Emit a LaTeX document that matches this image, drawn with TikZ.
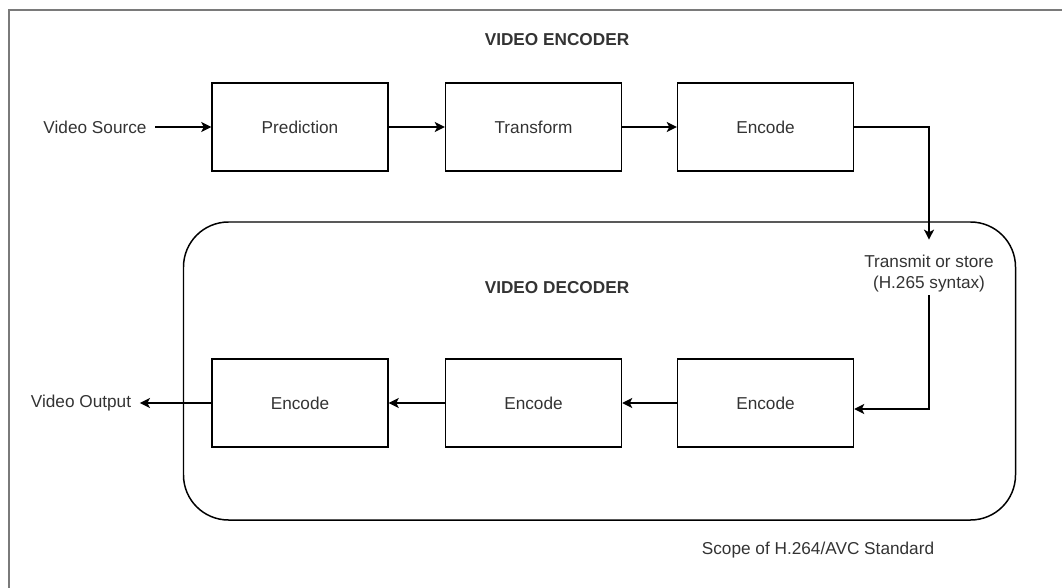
\documentclass[tikz,border=0pt]{standalone}
\usepackage{fontspec}
\setmainfont{Liberation Sans}
\usetikzlibrary{arrows.meta, calc}
\definecolor{txt}{HTML}{333333}
\definecolor{frame}{HTML}{7A7A7A}

\begin{document}
\begin{tikzpicture}[x=0.02cm, y=-0.02cm,
	every node/.style={font=\fontsize{9.8}{11.9}\selectfont, text=txt},
	block/.style={draw, line width=0.85pt, minimum width=3.52cm, minimum height=1.76cm, inner sep=0},
	label/.style={inner sep=0.17cm, align=center},
	title/.style={inner sep=0, font=\fontsize{9.8}{11.9}\selectfont\bfseries},
	flow/.style={-{Stealth[length=0.2cm, width=0.2cm, inset=0.05cm]}, line width=0.85pt}]
	\useasboundingbox (0,0) rectangle (1062,588);
	
	\draw[frame, line width=0.8pt] (9,588) -- (9,10) -- (1062,10);
	
	\draw[line width=0.85pt, rounded corners=0.9cm] (183.5,222) rectangle (1015.5,520);
	
	\node[title] (enctitle) at (557,40) {VIDEO ENCODER};
	\node[title] (dectitle) at (557,288) {VIDEO DECODER};
	
	\node[label] (src) at (95,127) {Video Source};
	\node[block] (pred) at (300,127) {Prediction};
	\node[block] (trans) at (533.5,127) {Transform};
	\node[block] (enc) at (765.5,127) {Encode};
	
	\node[label, inner sep=0.05cm] (tx) at (929,274) {Transmit or store\\(H.265 syntax)};
	
	\node[block] (dec3) at (765.5,403) {Encode};
	\node[block] (dec2) at (533.5,403) {Encode};
	\node[block] (dec1) at (300,403) {Encode};
	\node[label] (out) at (81,403) {Video Output};
	
	\node[inner sep=0] (scope) at (818,550) {Scope of H.264/AVC Standard};
	
	\draw[flow] (src) -- (pred);
	\draw[flow] (pred) -- (trans);
	\draw[flow] (trans) -- (enc);
	\draw[flow, shorten >=0.26cm] (enc.east) -| (tx.north);
	\draw[flow] (tx.south) |- ($(dec3.east)+(0,-0.12cm)$);
	\draw[flow] (dec3) -- (dec2);
	\draw[flow] (dec2) -- (dec1);
	\draw[flow] (dec1) -- (out);
\end{tikzpicture}
\end{document}
